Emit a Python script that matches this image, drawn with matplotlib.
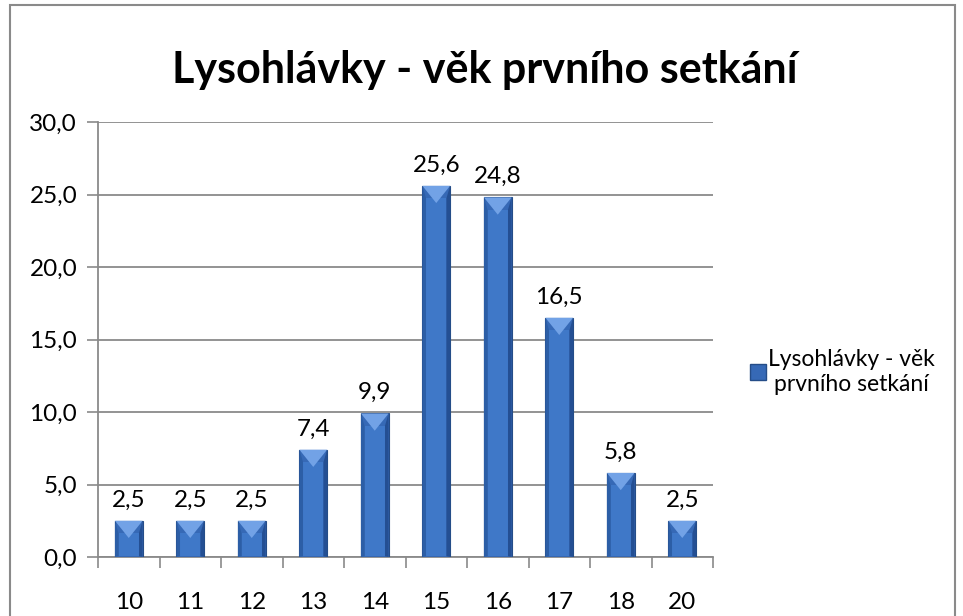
import numpy as np
import matplotlib.pyplot as plt
from matplotlib.patches import Rectangle, Polygon
from matplotlib.lines import Line2D

plt.rcParams['font.family'] = ['Lato', 'Open Sans', 'DejaVu Sans']

# data
ages = ['10', '11', '12', '13', '14', '15', '16', '17', '18', '20']
percent = [2.5, 2.5, 2.5, 7.4, 9.9, 25.6, 24.8, 16.5, 5.8, 2.5]
series_name = 'Lysohlávky - věk prvního setkání'

W, H = 963, 616
fig = plt.figure(figsize=(W / 100, H / 100), dpi=100)

# outer chart border (bottom edge is cut off in the original)
fig.patches.append(Rectangle((10 / W, -0.05), 945 / W, 1.05 - 5 / H, transform=fig.transFigure,
                             fill=False, edgecolor='#8a8a8a', linewidth=1.5))

ax = fig.add_axes([98 / W, 1 - 557 / H, 615 / W, 435 / H])

x = np.arange(len(ages))
bw = 0.45
face = '#3669b6'
edge = '#254d88'
ax.bar(x, percent, width=bw, color=face, edgecolor=edge, linewidth=0.8, zorder=3)

# bevel effect on the bars: lighter triangular top, darker sides
for xi, v in zip(x, percent):
    l, r = xi - bw / 2, xi + bw / 2
    ins = bw * 0.13
    dy = min(0.85, v * 0.35)
    ax.add_patch(Polygon([(l + ins, 0.05), (r - ins, 0.05), (r - ins, v - dy), (l + ins, v - dy)],
                         closed=True, facecolor='#3f78c8', edgecolor='none', zorder=4))
    ax.add_patch(Polygon([(l, 0), (l + ins, 0.05), (l + ins, v - dy), (l, v)],
                         closed=True, facecolor='#2c5ea6', edgecolor='none', zorder=4))
    ax.add_patch(Polygon([(r, 0), (r - ins, 0.05), (r - ins, v - dy), (r, v)],
                         closed=True, facecolor='#244f93', edgecolor='none', zorder=4))
    ax.add_patch(Polygon([(l, v), (r, v), (xi, v - dy * 1.4)],
                         closed=True, facecolor='#72a2e6', edgecolor='none', zorder=5))
    ax.text(xi, v + 0.7, f'{v:.1f}'.replace('.', ','), ha='center', va='bottom',
            fontsize=17.5, color='black', zorder=6)

ax.set_xlim(-0.5, len(ages) - 0.5)
ax.set_ylim(0, 30)
ax.set_yticks(np.arange(0, 31, 5))
ax.set_yticklabels([f'{t:.1f}'.replace('.', ',') for t in np.arange(0, 31, 5)], fontsize=17.5)

# category labels centered, ticks at boundaries
ax.set_xticks(x)
ax.set_xticklabels(ages, fontsize=17.5)
ax.tick_params(axis='x', length=0, pad=25)
ax.set_xticks(np.arange(-0.5, len(ages)), minor=True)
ax.tick_params(axis='x', which='minor', length=8, width=1.2, color='#8a8a8a', direction='out')
ax.tick_params(axis='y', length=8, width=1.2, color='#8a8a8a', direction='out', pad=7)

ax.grid(axis='y', color='#8a8a8a', linewidth=1.3, zorder=0)
ax.set_axisbelow(True)
for s in ['top', 'right']:
    ax.spines[s].set_visible(False)
for s in ['left', 'bottom']:
    ax.spines[s].set_color('#8a8a8a')
    ax.spines[s].set_linewidth(1.3)

fig.text(485 / W, 1 - 70 / H, series_name, ha='center', va='center', fontsize=31, fontweight='bold')

# legend
handle = Line2D([], [], marker='s', linestyle='none', markersize=11,
                markerfacecolor=face, markeredgecolor=edge)
leg = fig.legend([handle], ['Lysohlávky - věk\nprvního setkání'], loc='center left',
                 bbox_to_anchor=(740 / W, 1 - 372 / H), frameon=False, fontsize=16.5,
                 handletextpad=0.0, handlelength=0.8, borderpad=0.2, borderaxespad=0.2)
for t in leg.get_texts():
    t.set_multialignment('center')

fig.savefig('out.png', dpi=100)
